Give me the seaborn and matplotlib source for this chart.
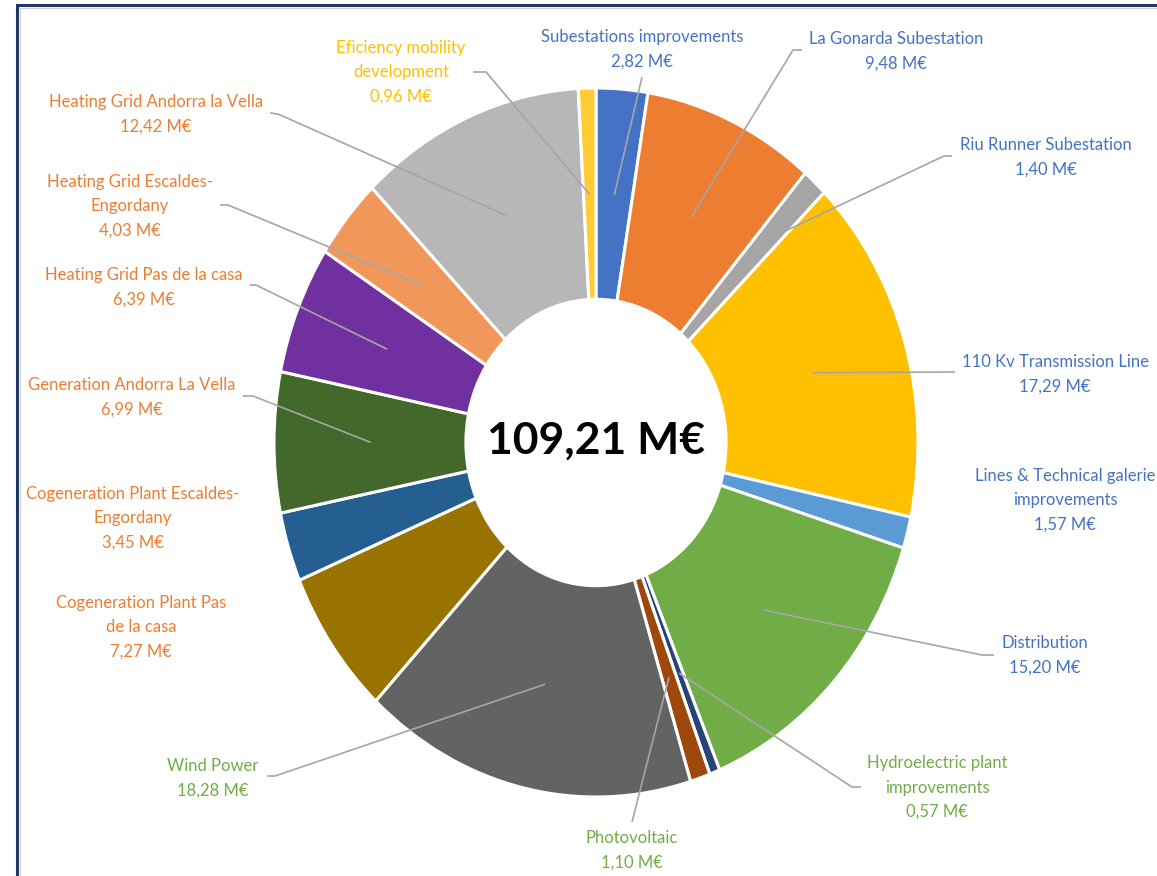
import numpy as np
import matplotlib
matplotlib.use('Agg')
import matplotlib.pyplot as plt
import seaborn as sns

# ── Data (clockwise from 12 o'clock) ──────────────────────────────────
CATEGORIES = [
    'Subestations improvements',
    'La Gonarda Subestation',
    'Riu Runner Subestation',
    '110 Kv Transmission Line',
    'Lines & Technical galerie\nimprovements',
    'Distribution',
    'Hydroelectric plant\nimprovements',
    'Photovoltaic',
    'Wind Power',
    'Cogeneration Plant Pas\nde la casa',
    'Cogeneration Plant Escaldes-\nEngordany',
    'Generation Andorra La Vella',
    'Heating Grid Pas de la casa',
    'Heating Grid Escaldes-\nEngordany',
    'Heating Grid Andorra la Vella',
    'Eficiency mobility\ndevelopment',
]
VALUES = [2.82, 9.48, 1.40, 17.29, 1.57, 15.20, 0.57, 1.10,
          18.28, 7.27, 3.45, 6.99, 6.39, 4.03, 12.42, 0.96]
GROUPS = ['grid', 'grid', 'grid', 'grid', 'grid', 'grid', 'renew', 'renew',
          'renew', 'heat', 'heat', 'heat', 'heat', 'heat', 'heat', 'mobility']
TOTAL = 109.21

SLICE_COLORS = ['#4472C4', '#ED7D31', '#A5A5A5', '#FFC000', '#5B9BD5', '#70AD47',
                '#264478', '#9E480E', '#636363', '#997300', '#255E91', '#43682B',
                '#7030A0', '#F1975A', '#B7B7B7', '#FFCD33']
GROUP_COLORS = {'grid': '#4472C4', 'renew': '#70AD47',
                'heat': '#ED7D31', 'mobility': '#FFC000'}

# ── Layout (pixels of the 1157x876 picture) ──────────────────────────
W, H = 1157, 876
CX, CY = 596, 442.5          # donut centre
RX, RY = 322, 354.5          # donut is drawn slightly stretched vertically
HOLE = 0.404

# label centre x, centre y of first text line
LABEL_POS = [(642, 37), (896, 39), (1046, 145), (1055, 362), (1065, 476),
             (1045, 643), (937, 763), (632, 838), (213, 766), (141, 603),
             (133, 494), (132, 385), (144, 275), (130, 182), (156, 102),
             (401, 48)]
# leader radius (fraction of outer radius) and the bend points towards the label
LEADER_R = [0.70, 0.70, 0.78, 0.70, None, 0.70, 0.70, 0.70,
            0.70, None, None, 0.70, 0.70, 0.70, 0.70, 0.70]
LEADER_PTS = [
    [(642, 77)],
    [(793, 50), (802, 50)],
    [(944, 156), (952, 156)],
    [(955, 372)],
    [],
    [(982, 655), (994, 655)],
    [(852, 787), (861, 787)],
    [(632, 822)],
    [(275, 776), (267, 776)],
    [],
    [],
    [(253, 396), (243, 396)],
    [(256, 285), (250, 285)],
    [(228, 205), (220, 205)],
    [(278, 114), (270, 113)],
    [(486, 72), (473, 72)],
]
LINE_STEP = 24.5

sns.set_theme(style='white')
plt.rcParams['font.family'] = ['Lato', 'DejaVu Sans']


def fmt_meur(v):
    return f'{v:.2f}'.replace('.', ',') + ' M€'


fig = plt.figure(figsize=(W / 100, H / 100), dpi=100)
fig.patch.set_facecolor('white')

# ── Donut ─────────────────────────────────────────────────────────────
ax_pie = fig.add_axes([(CX - RX) / W, (H - CY - RY) / H, 2 * RX / W, 2 * RY / H])
wedges, _ = ax_pie.pie(
    VALUES,
    colors=SLICE_COLORS,
    startangle=90,
    counterclock=False,
    radius=1,
    wedgeprops={'width': 1 - HOLE, 'edgecolor': 'white', 'linewidth': 2.2},
)
ax_pie.set_xlim(-1, 1)
ax_pie.set_ylim(-1, 1)
ax_pie.set_aspect('auto')
ax_pie.axis('off')

# ── Overlay in pixel coordinates for labels, leaders and frame ───────
ax = fig.add_axes([0, 0, 1, 1])
ax.set_xlim(0, W)
ax.set_ylim(H, 0)
ax.axis('off')

for i, (w, cat, val) in enumerate(zip(wedges, CATEGORIES, VALUES)):
    color = GROUP_COLORS[GROUPS[i]]
    lx, ly = LABEL_POS[i]
    lines = cat.split('\n') + [fmt_meur(val)]
    for k, line in enumerate(lines):
        ax.text(lx, ly + k * LINE_STEP, line, ha='center', va='center',
                fontsize=12, color=color)

    if LEADER_R[i] is not None:
        theta = np.deg2rad((w.theta1 + w.theta2) / 2)
        ax_x = CX + LEADER_R[i] * RX * np.cos(theta)
        ax_y = CY - LEADER_R[i] * RY * np.sin(theta)
        pts = [(ax_x, ax_y)] + LEADER_PTS[i]
        xs, ys = zip(*pts)
        ax.plot(xs, ys, color='#A6A6A6', lw=1.2, solid_capstyle='butt')

# centre total
ax.text(CX, CY - 2, fmt_meur(TOTAL), ha='center', va='center',
        fontsize=32, fontweight='bold', color='black')

# chart frame (left + top edges visible in the crop)
ax.plot([16.5, 16.5, W + 5], [H + 5, 5, 5], color='#1F3864', lw=2.2,
        solid_joinstyle='miter', clip_on=False)
ax.plot([19.5, 19.5, W + 5], [H + 5, 8, 8], color='#D0D0D0', lw=0.8,
        solid_joinstyle='miter', clip_on=False)

fig.savefig('out.png', dpi=100, facecolor='white')
